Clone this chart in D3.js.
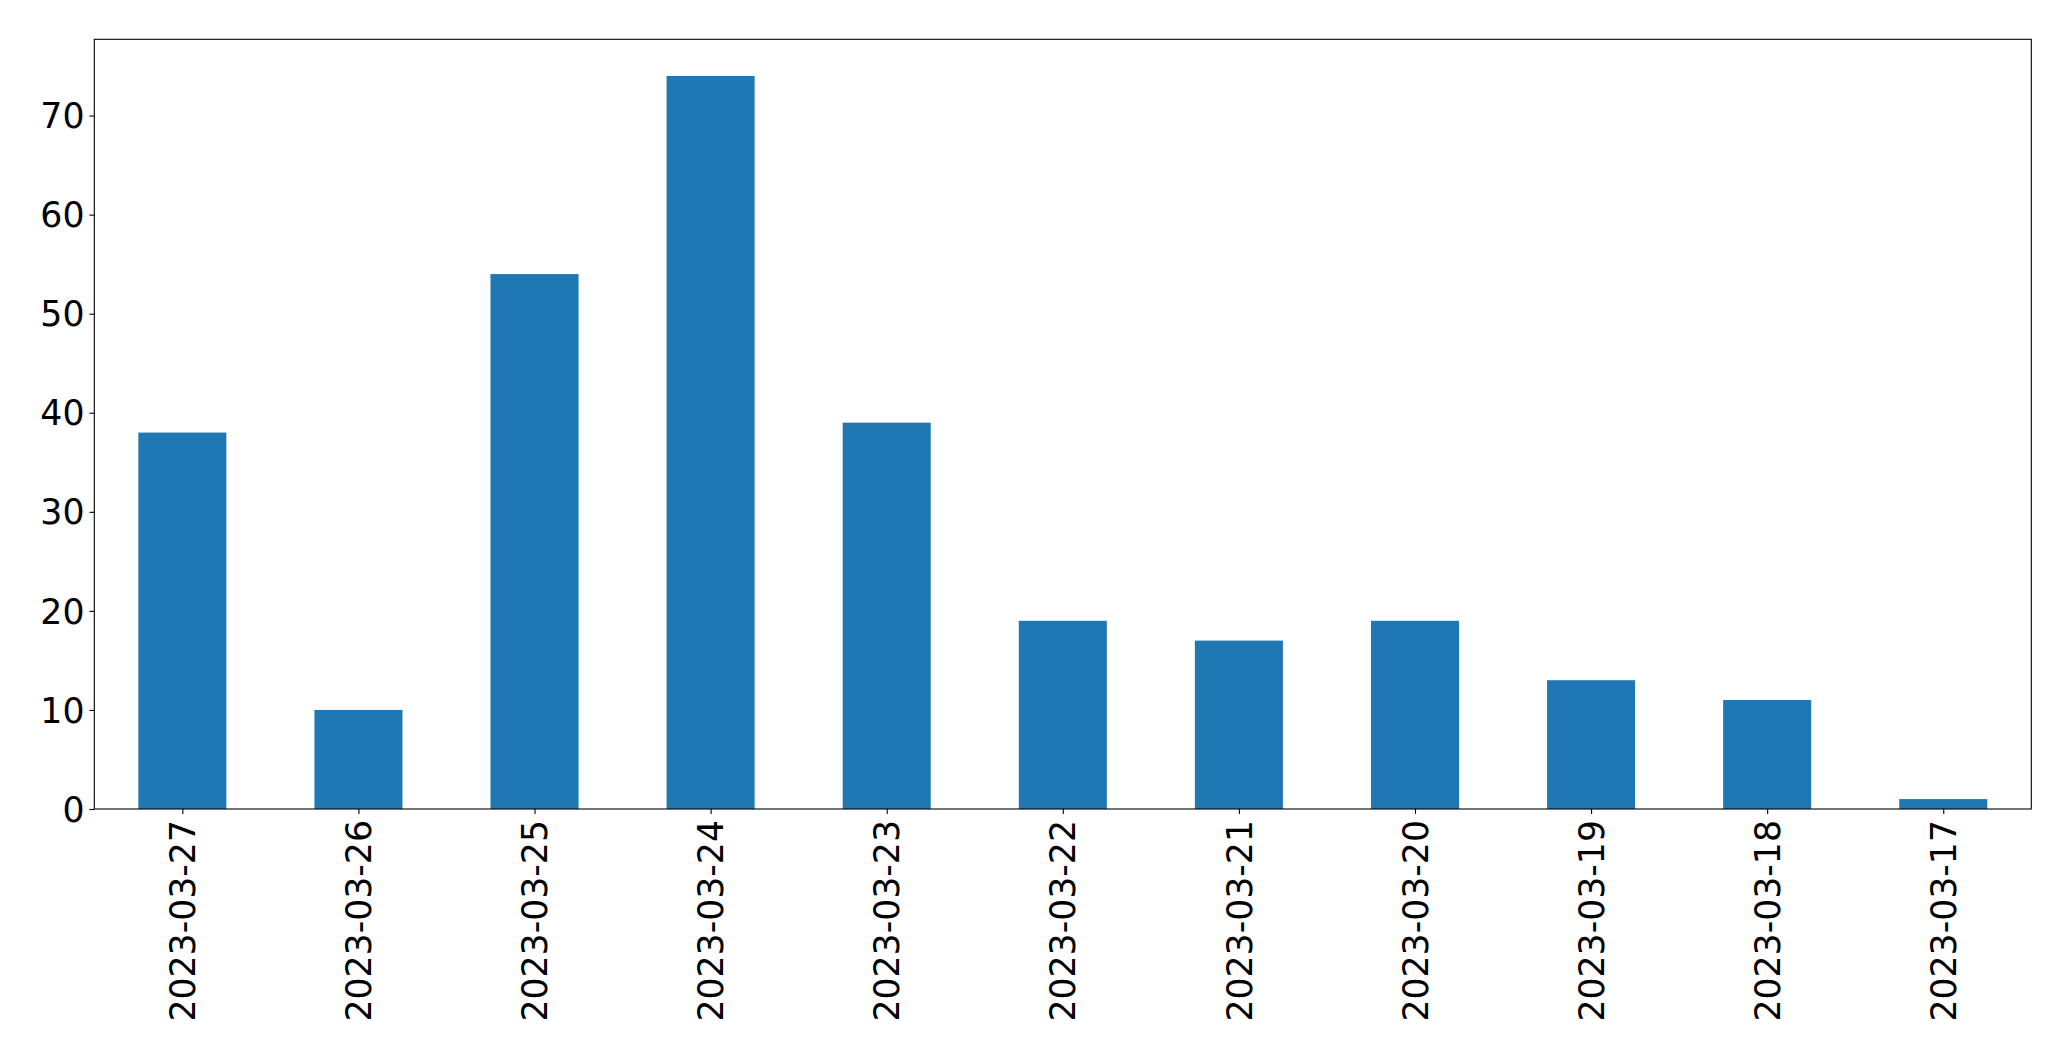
<html>
<head>
    <meta http-equiv="Content-Type" content="text/html;charset=utf-8">
    <title>Counts per day</title>
    <style>
        body { margin: 0; background: #fff; }
        .tick text { font-family: "DejaVu Sans", sans-serif; font-size: 34.7px; fill: #000; }
    </style>
</head>
<body>
</body>
<script type="text/javascript" src="https://cdn.jsdelivr.net/npm/d3@7/dist/d3.min.js"></script>
<script>
    var w = 2071, h = 1061;
    var plotLeft = 94.3, plotTop = 39.3, plotRight = 2031.3, plotBottom = 809;

    // values
    var dates = ['2023-03-27', '2023-03-26', '2023-03-25', '2023-03-24', '2023-03-23',
                 '2023-03-22', '2023-03-21', '2023-03-20', '2023-03-19', '2023-03-18', '2023-03-17'];
    var counts = [38, 10, 54, 74, 39, 19, 17, 19, 13, 11, 1];
    var yTicks = [0, 10, 20, 30, 40, 50, 60, 70];

    var svg = d3.select('body')
            .append('svg')
            .attr('width', w)
            .attr('height', h);

    // matplotlib style: xlim -0.5..n-0.5, bar width 0.5
    var x = d3.scaleLinear()
            .domain([-0.5, dates.length - 0.5])
            .range([plotLeft, plotRight]);

    var y = d3.scaleLinear()
            .domain([0, d3.max(counts) * 1.05])
            .range([plotBottom, plotTop]);

    svg.selectAll('rect.bar')
            .data(counts)
            .enter()
            .append('rect')
            .attr('class', 'bar')
            .attr('x', function (d, i) { return x(i - 0.25); })
            .attr('width', function () { return x(0.25) - x(-0.25); })
            .attr('y', function (d) { return y(d); })
            .attr('height', function (d) { return y(0) - y(d); })
            .attr('fill', '#1f77b4');

    var yAxis = svg.append('g')
            .attr('transform', 'translate(' + plotLeft + ',0)')
            .call(d3.axisLeft(y).tickValues(yTicks).tickSize(4.9).tickPadding(4.9).tickFormat(d3.format('d')));
    yAxis.select('.domain').remove();
    yAxis.selectAll('.tick line').attr('stroke', '#000').attr('stroke-width', 1.1);
    yAxis.selectAll('.tick text').attr('dy', '0.35em');

    var xAxis = svg.append('g')
            .attr('transform', 'translate(0,' + plotBottom + ')')
            .call(d3.axisBottom(x).tickValues(d3.range(dates.length)).tickSize(4.9)
                .tickFormat(function (i) { return dates[i]; }));
    xAxis.select('.domain').remove();
    xAxis.selectAll('.tick line').attr('stroke', '#000').attr('stroke-width', 1.1);
    xAxis.selectAll('.tick text')
            .attr('transform', 'rotate(-90)')
            .attr('text-anchor', 'end')
            .attr('x', -11)
            .attr('y', 0)
            .attr('dy', '0.35em');

    // frame
    svg.append('rect')
            .attr('x', plotLeft)
            .attr('y', plotTop)
            .attr('width', plotRight - plotLeft)
            .attr('height', plotBottom - plotTop)
            .attr('fill', 'none')
            .attr('stroke', '#000')
            .attr('stroke-width', 1.1);
</script>
</html>
